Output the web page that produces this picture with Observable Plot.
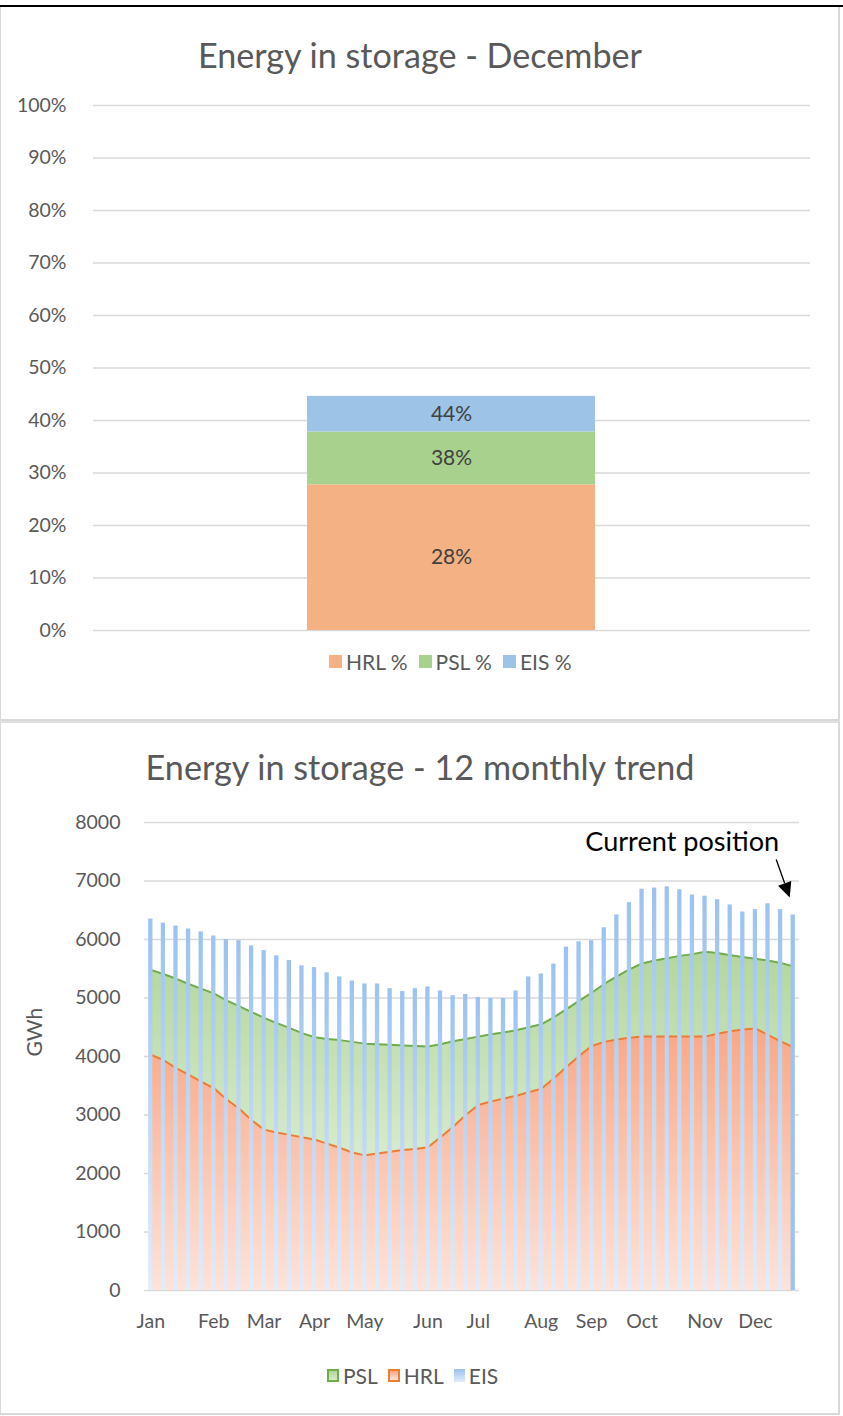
<!DOCTYPE html>
<html>
<head>
<meta charset="utf-8">
<script src="https://cdn.jsdelivr.net/npm/d3@7"></script>
<script src="https://cdn.jsdelivr.net/npm/@observablehq/plot@0.6"></script>
<style>
  html, body { margin: 0; padding: 0; background: #fff; }
  #page { position: relative; width: 843px; height: 1416px; overflow: hidden; font-family: Lato, "Open Sans", sans-serif; color: #595959; }
  .abs { position: absolute; }
  .topline { left: 0; top: 5px; width: 843px; height: 2px; background: #000; }
  .panel { left: 0; width: 837px; border-left: 1px solid #D9D9D9; border-right: 2px solid #D9D9D9; }
  .title { left: 0; width: 840px; text-align: center; line-height: 1; white-space: nowrap; color: #595959; }
  .title span { display: inline-block; }
  .legend { display: flex; align-items: center; white-space: nowrap; font-size: 21px; line-height: 1; color: #595959; }
  .legend .item { display: flex; align-items: center; }
  .legend .sw { display: inline-block; box-sizing: border-box; margin-right: 4px; }
  .chart { left: 0; }
</style>
</head>
<body>
<div id="page">
  <div class="abs topline"></div>
  <div class="abs panel" style="top:7px;height:712px;border-bottom:2px solid #D9D9D9;"></div>
  <div class="abs panel" style="top:721px;height:690px;border-top:2px solid #E0E0E0;border-bottom:2px solid #D9D9D9;"></div>

  <div class="abs title" id="title1"><span>Energy in storage - December</span></div>
  <div class="abs chart" id="chart1" style="top:80px;"></div>
  <div class="abs legend" id="legend1" style="left:329px;top:648px;height:26px;"></div>

  <div class="abs title" id="title2"><span>Energy in storage - 12 monthly trend</span></div>
  <div class="abs chart" id="chart2" style="top:800px;"></div>
  <div class="abs legend" id="legend2" style="left:327px;top:1362px;height:26px;"></div>
</div>
<script>
// ---------- Top chart data ----------
const topCategory = "December";
const topSeries = ["HRL %", "PSL %", "EIS %"];
const topValues = [27.75, 10.05, 6.8];
const topLabels = ["28%", "38%", "44%"];
const topColors = ["#F4B183", "#A9D18E", "#9DC3E6"];
const pctTicks = [0, 10, 20, 30, 40, 50, 60, 70, 80, 90, 100];

// ---------- Bottom chart data (weekly) ----------
const monthNames = ["Jan", "Feb", "Mar", "Apr", "May", "Jun", "Jul", "Aug", "Sep", "Oct", "Nov", "Dec"];
const monthStartWeek = [0, 5, 9, 13, 17, 22, 26, 31, 35, 39, 44, 48];
const hrl = [4030, 3940, 3800, 3690, 3570, 3460, 3270, 3110, 2910, 2750,
             2700, 2660, 2620, 2580, 2510, 2440, 2360, 2310, 2340, 2370,
             2400, 2420, 2450, 2620, 2800, 3000, 3170, 3230, 3280, 3330,
             3390, 3450, 3630, 3820, 4010, 4180, 4250, 4290, 4320, 4340,
             4340, 4340, 4340, 4340, 4340, 4390, 4430, 4460, 4480, 4370,
             4260, 4160];
const psl = [1450, 1470, 1530, 1550, 1590, 1620, 1690, 1750, 1850, 1910,
             1870, 1830, 1780, 1750, 1790, 1840, 1890, 1910, 1870, 1830,
             1790, 1760, 1720, 1590, 1460, 1300, 1170, 1150, 1130, 1120,
             1110, 1100, 1040, 990, 940, 910, 990, 1080, 1170, 1250,
             1300, 1340, 1380, 1410, 1450, 1380, 1300, 1240, 1190, 1270,
             1340, 1380];
const eis = [6350, 6280, 6230, 6180, 6130, 6060, 6000, 5980, 5890, 5810,
             5720, 5640, 5550, 5520, 5430, 5360, 5290, 5240, 5240, 5160,
             5110, 5160, 5190, 5120, 5040, 5060, 5010, 4990, 4990, 5120,
             5360, 5410, 5580, 5870, 5960, 5980, 6200, 6420, 6630, 6860,
             6880, 6900, 6850, 6760, 6740, 6680, 6590, 6470, 6510, 6610,
             6510, 6420];
const gwhTicks = [0, 1000, 2000, 3000, 4000, 5000, 6000, 7000, 8000];
const trendSeries = ["PSL", "HRL", "EIS"];
const trendLine = {PSL: "#70AD47", HRL: "#ED7D31"};
const annotationText = "Current position";
const yAxisTitle = "GWh";

const fontFamily = "Lato, 'Open Sans', sans-serif";

// ---------- Top chart ----------
const topData = topSeries.map((s, k) => ({cat: topCategory, series: s, value: topValues[k], label: topLabels[k]}));

const chart1 = Plot.plot({
  width: 840, height: 570,
  marginLeft: 93, marginRight: 30, marginTop: 25, marginBottom: 20,
  style: {fontFamily, fontSize: "19.5px", color: "#595959", background: "transparent", overflow: "visible"},
  x: {type: "band", domain: [topCategory], padding: 0.4255, axis: null},
  y: {domain: [0, 100], ticks: pctTicks, tickFormat: d => d + "%", tickSize: 0, tickPadding: 27, label: null},
  color: {domain: topSeries, range: topColors},
  marks: [
    Plot.ruleY(pctTicks, {stroke: "#D9D9D9", strokeWidth: 1.5}),
    Plot.barY(topData, {x: "cat", y: "value", fill: "series", z: "series"}),
    Plot.text(topData, Plot.stackY({x: "cat", y: "value", z: "series", text: "label", fill: "#404040", fontSize: 21}))
  ]
});
document.getElementById("chart1").appendChild(chart1);

// ---------- Bottom chart ----------
const weekIdx = eis.map((_, i) => i);
const last = weekIdx[weekIdx.length - 1];
const areaData = [
  ...hrl.map((v, i) => ({i, series: "HRL", v, fill: "url(#gradHRL)", stroke: trendLine.HRL})),
  ...psl.map((v, i) => ({i, series: "PSL", v, fill: "url(#gradPSL)", stroke: trendLine.PSL}))
];
const barData = eis.map((v, i) => ({i, v, fill: i === last ? "#9DC3F0" : "url(#gradEIS)"}));

const chart2 = Plot.plot({
  width: 840, height: 540,
  marginLeft: 144, marginRight: 41, marginTop: 22, marginBottom: 50,
  style: {fontFamily, fontSize: "19.5px", color: "#595959", background: "transparent", overflow: "visible"},
  x: {type: "band", domain: weekIdx, paddingInner: 0.66, paddingOuter: 0.33,
      ticks: monthStartWeek, tickFormat: i => monthNames[monthStartWeek.indexOf(i)], tickSize: 0, tickPadding: 24, label: null},
  y: {domain: [0, 8000], ticks: gwhTicks, tickFormat: d => String(d), tickSize: 0, tickPadding: 24, label: null},
  color: {type: "identity"},
  marks: [
    Plot.ruleY(gwhTicks, {stroke: "#D9D9D9", strokeWidth: 1.5}),
    Plot.areaY(areaData, {x: "i", y: "v", z: "series", fill: "fill"}),
    Plot.lineY(areaData, Plot.stackY2({x: "i", y: "v", z: "series", stroke: "stroke", strokeWidth: 2})),
    Plot.barY(barData, {x: "i", y: "v", fill: "fill"}),
    Plot.text([yAxisTitle], {frameAnchor: "left", text: d => d, rotate: -90, dx: -109, fill: "#595959", fontSize: 21})
  ]
});
document.getElementById("chart2").appendChild(chart2);

// gradients
const svg2 = d3.select(chart2);
const defs = svg2.insert("defs", ":first-child");
function grad(id, c0, c1) {
  const g = defs.append("linearGradient").attr("id", id).attr("x1", 0).attr("y1", 0).attr("x2", 0).attr("y2", 1);
  g.append("stop").attr("offset", "0%").attr("stop-color", c0);
  g.append("stop").attr("offset", "100%").attr("stop-color", c1);
}
grad("gradHRL", "#FBA783", "#FDE3DA");
grad("gradPSL", "#B2D79A", "#D7EBCB");
grad("gradEIS", "#9BC2F1", "#E3ECF9");

// annotation through the chart's scales
const xs = chart2.scale("x"), ys = chart2.scale("y");
const cx = xs.apply(last) + xs.bandwidth / 2;
const tipX = cx - 3, tipY = ys.apply(eis[last]) - 17;
const tailX = tipX - 13.5, tailY = tipY - 38;
const ang = Math.atan2(tipY - tailY, tipX - tailX);
const headLen = 15, headHalf = 7;
const bx = tipX - headLen * Math.cos(ang), by = tipY - headLen * Math.sin(ang);
const ann = svg2.append("g");
ann.append("line").attr("x1", tailX).attr("y1", tailY).attr("x2", bx).attr("y2", by)
  .attr("stroke", "#000").attr("stroke-width", 1.3);
ann.append("polygon").attr("points", [
  [tipX, tipY],
  [bx + headHalf * Math.sin(ang), by - headHalf * Math.cos(ang)],
  [bx - headHalf * Math.sin(ang), by + headHalf * Math.cos(ang)]
].map(p => p.join(",")).join(" ")).attr("fill", "#000");
const annText = ann.append("text").attr("x", tailX + 3).attr("y", tailY - 8)
  .attr("text-anchor", "end").attr("fill", "#000").attr("font-size", 26).attr("font-family", fontFamily)
  .text(annotationText);
{
  const w = annText.node().getComputedTextLength();
  annText.attr("font-size", 26 * 194 / w);
}

// ---------- Titles (fit width to reference) ----------
function fitTitle(id, targetW, capMidY) {
  const div = document.getElementById(id);
  const span = div.querySelector("span");
  div.style.fontSize = "34px";
  const w = span.getBoundingClientRect().width;
  const fs = 34 * targetW / w;
  div.style.fontSize = fs + "px";
  div.style.top = (capMidY - 0.53 * fs) + "px";
}
fitTitle("title1", 444, 56);
fitTitle("title2", 549, 768);

// ---------- Legends ----------
function legend(id, items, gap) {
  const el = document.getElementById(id);
  items.forEach((it, k) => {
    const item = document.createElement("div");
    item.className = "item";
    if (k > 0) item.style.marginLeft = gap + "px";
    const sw = document.createElement("span");
    sw.className = "sw";
    sw.style.width = it.w + "px";
    sw.style.height = it.h + "px";
    sw.style.background = it.bg;
    if (it.border) sw.style.border = "2px solid " + it.border;
    const t = document.createElement("span");
    t.textContent = it.label;
    item.appendChild(sw); item.appendChild(t);
    el.appendChild(item);
  });
}
legend("legend1", topSeries.map((s, k) => ({label: s, bg: topColors[k], w: 13, h: 13})), 11);
legend("legend2", [
  {label: trendSeries[0], bg: "linear-gradient(#B2D79A, #D7EBCB)", border: trendLine.PSL, w: 12, h: 13},
  {label: trendSeries[1], bg: "linear-gradient(#FBA783, #FDE3DA)", border: trendLine.HRL, w: 12, h: 13},
  {label: trendSeries[2], bg: "linear-gradient(#9BC2F1, #E3ECF9)", w: 11, h: 13}
], 10);
</script>
</body>
</html>
